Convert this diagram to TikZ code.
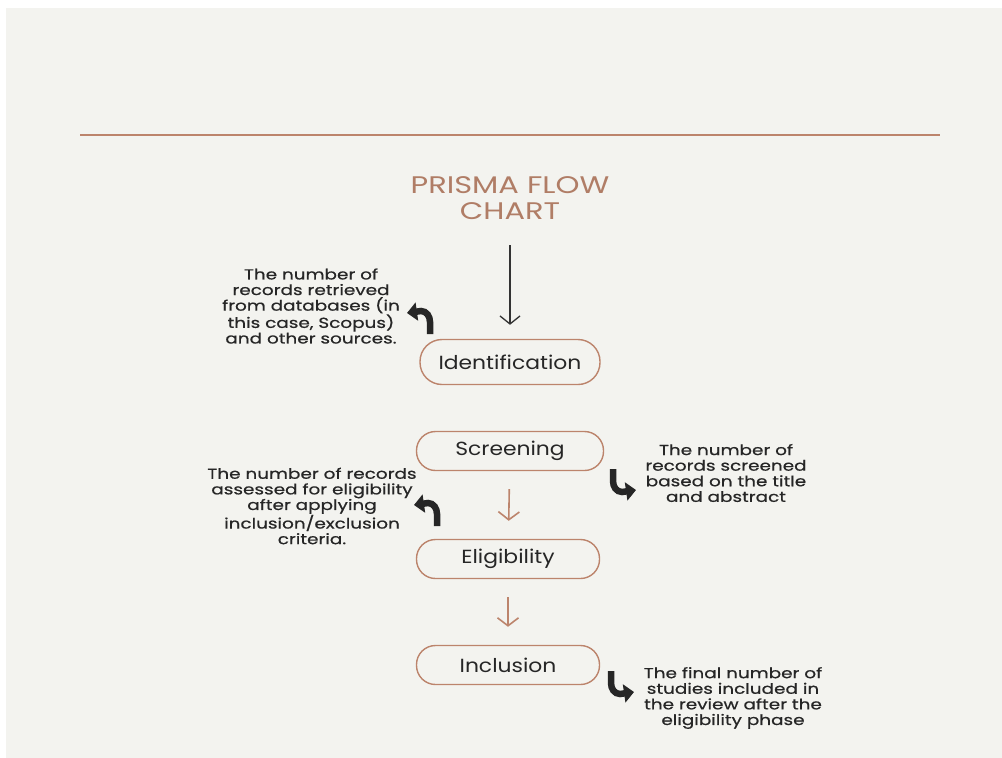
\documentclass[tikz,border=0pt]{standalone}
\usepackage{fontspec}
\setmainfont{Poppins}
\newfontfamily\widefont{Poppins}[FakeStretch=1.27]
\newfontfamily\notefont{Poppins}[FakeStretch=1.27,FakeBold=0.6]
\newfontfamily\labelfont{Poppins}[FakeStretch=1.15]
\usetikzlibrary{arrows.meta}
\definecolor{rust}{HTML}{BC846C}
\definecolor{titlebrown}{HTML}{B07D66}
\definecolor{panel}{HTML}{F3F3EF}
\definecolor{ink}{HTML}{262626}
\tikzset{
  stage/.style={draw=rust, line width=1.4pt, rounded corners=19pt, minimum width=183pt, minimum height=39pt, font=\labelfont\fontsize{19}{21}\selectfont, text=ink},
  note/.style={align=center, font=\notefont\fontsize{14.5}{15.6}\selectfont, text=ink},
  flow/.style={draw=rust, line width=1.6pt, -{Straight Barb[length=8pt,width=21pt]}},
  curl/.style={line width=6.5pt, black!85, -{Triangle[length=10pt,width=18pt]}}
}
\begin{document}
\begin{tikzpicture}[x=1pt,y=-1pt]
\useasboundingbox (0,0) rectangle (1002,758);
\fill[white] (0,0) rectangle (1002,758);
\fill[panel] (6,8) rectangle (1002,758);
\draw[rust, line width=1.2pt] (80,135) -- (940,135); % rule

% title and stages
\node[font=\widefont\fontsize{24}{26}\selectfont, text=titlebrown, align=center] (title) at (510,198) {PRISMA FLOW\\CHART};
\node[stage, minimum width=180pt, minimum height=45pt, rounded corners=22pt] (ident) at (510,362) {Identification};
\node[stage, minimum width=187pt] (screen) at (510,451) {Screening};
\node[stage] (elig) at (508,559) {Eligibility};
\node[stage] (incl) at (508,665) {Inclusion};

% arrows
\draw[black!80, line width=1.3pt, -{Straight Barb[length=8pt,width=20pt]}, shorten <=22pt, shorten >=14pt] (title) -- (ident);
\draw[flow, shorten <=18pt, shorten >=18pt] (screen) -- (elig);
\draw[flow, shorten <=18pt, shorten >=18pt] (elig) -- (incl);

% notes
\node[note] (idnote) at (311,306) {The number of\\records retrieved\\from databases (in\\this case, Scopus)\\and other sources.};
\node[note] (elignote) at (312,506) {The number of records\\assessed for eligibility\\after applying\\inclusion/exclusion\\criteria.};
\node[note] (scrnote) at (726,473) {The number of\\records screened\\based on the title\\and abstract};
\node[note] (inclnote) at (733,698) {The final number of\\studies included in\\the review after the\\eligibility phase};

% curled pointers
\draw[curl] (430,334) -- (430,322) to[out=90,in=0] (421,311) -- (407,313); % to idnote
\draw[curl] (437,526) -- (437,514) to[out=90,in=0] (428,503) -- (414,505); % to elignote
\draw[curl] (613,469) -- (613,481) to[out=-90,in=180] (622,492) -- (636,490); % to scrnote
\draw[curl] (611,671) -- (611,683) to[out=-90,in=180] (620,694) -- (634,692); % to inclnote
\end{tikzpicture}
\end{document}
